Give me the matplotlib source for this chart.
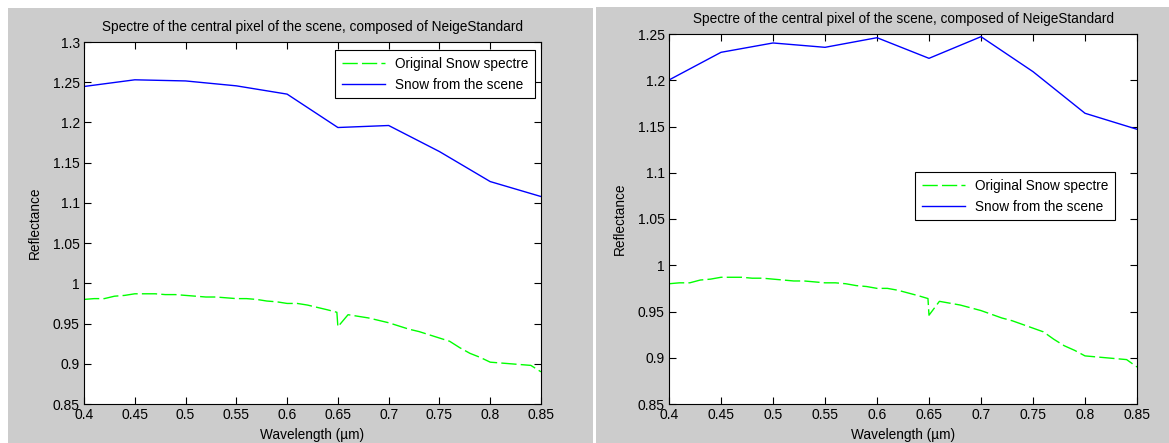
import numpy as np
import matplotlib.pyplot as plt
from matplotlib.patches import Rectangle
from matplotlib.ticker import FuncFormatter

plt.rcParams['font.family'] = ['Liberation Sans', 'DejaVu Sans']

# original snow spectre (same in both panels)
wl_orig = [0.40, 0.41, 0.42, 0.43, 0.44, 0.45, 0.46, 0.47, 0.48, 0.49,
           0.50, 0.51, 0.52, 0.53, 0.54, 0.55, 0.56, 0.57, 0.58, 0.59,
           0.60, 0.61, 0.62, 0.63, 0.64, 0.649, 0.65, 0.66, 0.67, 0.68,
           0.69, 0.70, 0.71, 0.72, 0.73, 0.74, 0.75, 0.76, 0.77, 0.78,
           0.79, 0.80, 0.81, 0.82, 0.83, 0.84, 0.85]
refl_orig = [0.980, 0.981, 0.981, 0.984, 0.985, 0.987, 0.987, 0.987, 0.986, 0.986,
             0.985, 0.984, 0.983, 0.983, 0.982, 0.981, 0.981, 0.980, 0.978, 0.977,
             0.975, 0.975, 0.973, 0.970, 0.967, 0.964, 0.946, 0.961, 0.959, 0.957,
             0.954, 0.951, 0.947, 0.943, 0.940, 0.936, 0.932, 0.928, 0.920, 0.913,
             0.908, 0.902, 0.901, 0.900, 0.899, 0.898, 0.890]

# snow extracted from the scene
wl_scene = [0.40, 0.45, 0.50, 0.55, 0.60, 0.65, 0.70, 0.75, 0.80, 0.85]
refl_scene_1 = [1.2447, 1.253, 1.2516, 1.2455, 1.2352, 1.1937, 1.1962, 1.1638, 1.1265, 1.1079]
refl_scene_2 = [1.2003, 1.2302, 1.2403, 1.2356, 1.246, 1.2237, 1.2471, 1.2093, 1.1643, 1.147]

title = 'Spectre of the central pixel of the scene, composed of NeigeStandard'
x_ticks = [0.4, 0.45, 0.5, 0.55, 0.6, 0.65, 0.7, 0.75, 0.8, 0.85]
y_ticks_1 = [0.85, 0.9, 0.95, 1, 1.05, 1.1, 1.15, 1.2, 1.25, 1.3]
y_ticks_2 = [0.85, 0.9, 0.95, 1, 1.05, 1.1, 1.15, 1.2, 1.25]

W, H = 1169, 443
fig = plt.figure(figsize=(W / 100, H / 100), dpi=100)
fig.patch.set_facecolor('white')

# gray window backgrounds of the two screenshots
for x0, x1, top in [(8, 593, 8), (596, W, 7)]:
    fig.patches.append(Rectangle((x0 / W, 0), (x1 - x0) / W, (H - top) / H,
                                 transform=fig.transFigure, facecolor='#cccccc',
                                 edgecolor='none', zorder=-10))

fmt = FuncFormatter(lambda v, p: '%g' % round(v, 2))
fs = 9.8


def panel(rect, scene, yticks, ymax, legend_anchor):
    ax = fig.add_axes(rect)
    ax.plot(wl_orig, refl_orig, color='#00ff00', linestyle=(0, (11, 3)), lw=1,
            label='Original Snow spectre')
    ax.plot(wl_scene, scene, color='#0000ff', lw=1, label='Snow from the scene')
    ax.set_xlim(0.4, 0.85)
    ax.set_ylim(0.85, ymax)
    ax.set_xticks(x_ticks)
    ax.set_yticks(yticks)
    ax.xaxis.set_major_formatter(fmt)
    ax.yaxis.set_major_formatter(fmt)
    ax.tick_params(direction='in', length=5, width=0.8, labelsize=10,
                   top=True, right=True)
    ax.tick_params(axis='x', pad=3)
    ax.tick_params(axis='y', pad=3)
    for s in ax.spines.values():
        s.set_linewidth(0.8)
    ax.set_title(title, fontsize=fs, pad=8)
    ax.set_xlabel('Wavelength (µm)', fontsize=fs, labelpad=4)
    ax.set_ylabel('Reflectance', fontsize=fs, labelpad=8)
    leg = ax.legend(loc='upper right', bbox_to_anchor=legend_anchor,
                    borderaxespad=0, fontsize=fs, fancybox=False,
                    edgecolor='black', handlelength=3.2, handletextpad=0.7,
                    borderpad=0.5, framealpha=1)
    leg.get_frame().set_linewidth(0.8)
    return ax


panel([84 / W, 39 / H, 457 / W, 362 / H], refl_scene_1, y_ticks_1, 1.3,
      (0.987, 0.978))
panel([669 / W, 39 / H, 468 / W, 370 / H], refl_scene_2, y_ticks_2, 1.25,
      (0.953, 0.627))

plt.savefig('out.png', dpi=100)
